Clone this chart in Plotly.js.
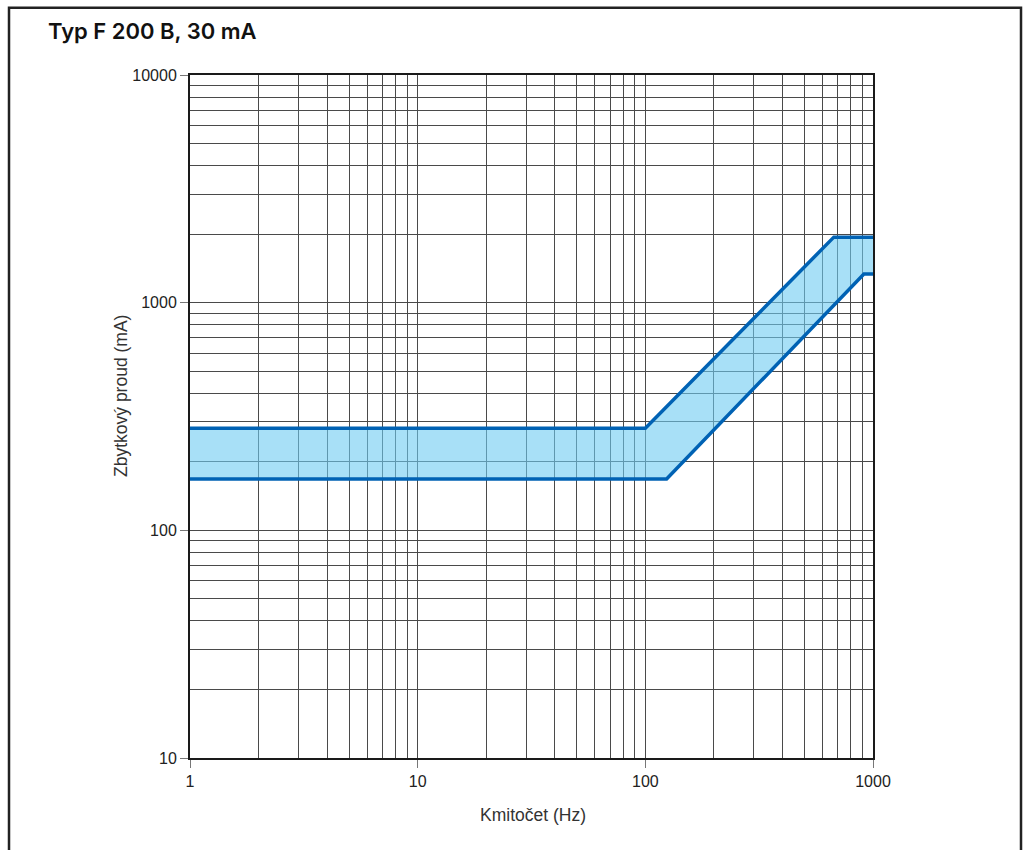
<!DOCTYPE html>
<html>
<head>
<meta charset="utf-8">
<script src="https://cdn.plot.ly/plotly-3.0.1.min.js"></script>
<style>
html,body{margin:0;padding:0;background:#fff;}
#chart{width:1030px;height:850px;}
</style>
</head>
<body>
<div id="chart"></div>
<script>
// Data
const upperFreq = [1, 100, 673, 1000];
const upperCurrent = [281, 281, 1940, 1940];
const lowerFreq = [1, 124, 912, 1000];
const lowerCurrent = [168, 168, 1336, 1336];

const xTickVals = [1, 10, 100, 1000];
const xTickText = ['1', '10', '100', '1000'];
const yTickVals = [10, 100, 1000, 10000];
const yTickText = ['10', '100', '1000', '10000'];

const titleText = 'Typ F 200 B, 30 mA';
const xTitle = 'Kmitočet (Hz)';
const yTitle = 'Zbytkový proud (mA)';

const lineColor = '#0062b4';
const fillColor = 'rgba(110,203,242,0.6)';
const gridColor = '#4a4a4a';
const font = 'Liberation Sans, Arial, sans-serif';

const traces = [
  {x: lowerFreq, y: lowerCurrent, mode: 'lines', line: {color: lineColor, width: 3.5}, hoverinfo: 'skip', showlegend: false},
  {x: upperFreq, y: upperCurrent, mode: 'lines', line: {color: lineColor, width: 3.5}, fill: 'tonexty', fillcolor: fillColor, hoverinfo: 'skip', showlegend: false}
];

const axisCommon = {
  type: 'log',
  tickmode: 'array',
  showgrid: true,
  gridcolor: gridColor,
  gridwidth: 1,
  showline: true,
  linecolor: '#1a1a1a',
  linewidth: 2,
  mirror: true,
  ticks: 'outside',
  ticklen: 8,
  tickcolor: '#777',
  tickwidth: 1,
  zeroline: false,
  tickfont: {family: font, size: 16, color: '#222'},
  minor: {dtick: 'D1', showgrid: true, gridcolor: gridColor, gridwidth: 1, ticks: ''}
};

const layout = {
  width: 1030,
  height: 850,
  margin: {l: 190, r: 157, t: 75, b: 92},
  paper_bgcolor: '#fff',
  plot_bgcolor: '#fff',
  title: {
    text: titleText,
    font: {family: 'Inter, Liberation Sans, sans-serif', size: 22, weight: 600, color: '#111'},
    xref: 'container', yref: 'container',
    x: 48/1030, xanchor: 'left',
    y: 1 - 31/850, yanchor: 'middle'
  },
  xaxis: Object.assign({}, axisCommon, {
    range: [0, 3],
    tickvals: xTickVals,
    ticktext: xTickText
  }),
  yaxis: Object.assign({}, axisCommon, {
    range: [1, 4],
    tickvals: yTickVals,
    ticktext: yTickText
  }),
  annotations: [
    {text: xTitle, xref: 'paper', yref: 'paper', x: (533 - 190) / 683, y: (758 - 815) / 683,
     xanchor: 'center', yanchor: 'middle', showarrow: false,
     font: {family: font, size: 17.5, color: '#333'}},
    {text: yTitle, xref: 'paper', yref: 'paper', x: (121 - 190) / 683, y: (758 - 396) / 683,
     xanchor: 'center', yanchor: 'middle', showarrow: false, textangle: -90,
     font: {family: font, size: 17.5, color: '#333'}}
  ],
  shapes: [
    {type: 'path', xref: 'paper', yref: 'paper',
     path: 'M -0.265 -0.2 L -0.265 1.0985 L 1.2167 1.0985 L 1.2167 -0.2',
     line: {color: '#222', width: 2.5}, fillcolor: 'rgba(0,0,0,0)', layer: 'above'}
  ]
};

Plotly.newPlot('chart', traces, layout, {staticPlot: true, displayModeBar: false});
</script>
</body>
</html>
